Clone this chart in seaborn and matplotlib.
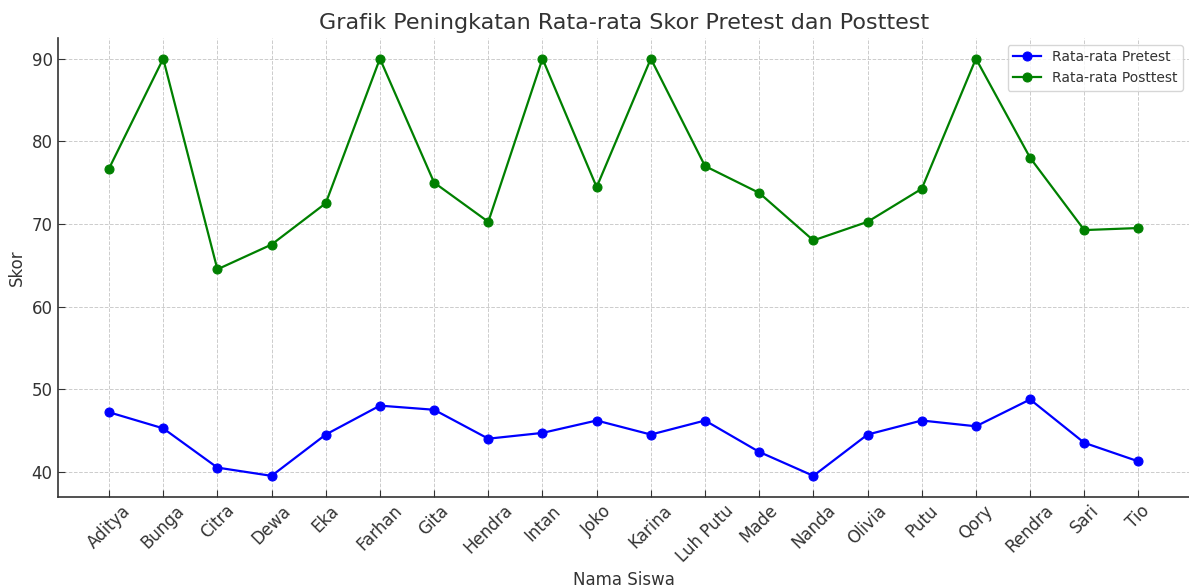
import matplotlib
matplotlib.use("Agg")
import matplotlib.pyplot as plt
import seaborn as sns
import pandas as pd

names = ["Aditya", "Bunga", "Citra", "Dewa", "Eka", "Farhan", "Gita", "Hendra",
         "Intan", "Joko", "Karina", "Luh Putu", "Made", "Nanda", "Olivia", "Putu",
         "Qory", "Rendra", "Sari", "Tio"]
pretest = [47.2, 45.25, 40.5, 39.5, 44.5, 48.0, 47.5, 44.0, 44.7, 46.2,
           44.5, 46.2, 42.4, 39.5, 44.5, 46.2, 45.5, 48.75, 43.5, 41.25]
posttest = [76.7, 90.0, 64.5, 67.5, 72.5, 90.0, 75.0, 70.25, 90.0, 74.45,
            90.0, 77.0, 73.75, 68.0, 70.25, 74.25, 90.0, 78.0, 69.25, 69.5]
series_labels = ["Rata-rata Pretest", "Rata-rata Posttest"]
colors = ["blue", "green"]

TEXT = "#333333"
plt.rcParams.update({
    "font.family": ["DejaVu Sans"],
    "text.color": TEXT,
    "axes.labelcolor": TEXT,
    "xtick.color": TEXT,
    "ytick.color": TEXT,
    "axes.edgecolor": TEXT,
})

fig = plt.figure(figsize=(11.89, 5.87), dpi=100)
ax = fig.add_axes([0.0484, 0.1538, 0.9524, 0.7818])

df = pd.DataFrame({"Nama": names, "Pre": pretest, "Post": posttest})
for col, lab, c in zip(["Pre", "Post"], series_labels, colors):
    sns.lineplot(data=df, x="Nama", y=col, marker="o", color=c, label=lab,
                 sort=False, ax=ax, markersize=6.5, markeredgecolor=c,
                 linewidth=1.6)

ax.set_title("Grafik Peningkatan Rata-rata Skor Pretest dan Posttest",
             fontsize=16, color=TEXT)
ax.set_xlabel("Nama Siswa", fontsize=12)
ax.set_ylabel("Skor", fontsize=12)
ax.tick_params(axis="both", direction="in", labelsize=12, length=5)
plt.setp(ax.get_xticklabels(), rotation=45)
ax.grid(True, linestyle="--", color="#cccccc", linewidth=0.7)
ax.set_axisbelow(True)
for s in ["top", "right"]:
    ax.spines[s].set_visible(False)
ax.spines["left"].set_linewidth(1.2)
ax.spines["bottom"].set_linewidth(1.2)
ax.margins(x=0.05, y=0.05)
ax.set_yticks([40, 50, 60, 70, 80, 90])
ax.legend(loc="upper right", fontsize=10)

fig.savefig("out.png", dpi=100)
